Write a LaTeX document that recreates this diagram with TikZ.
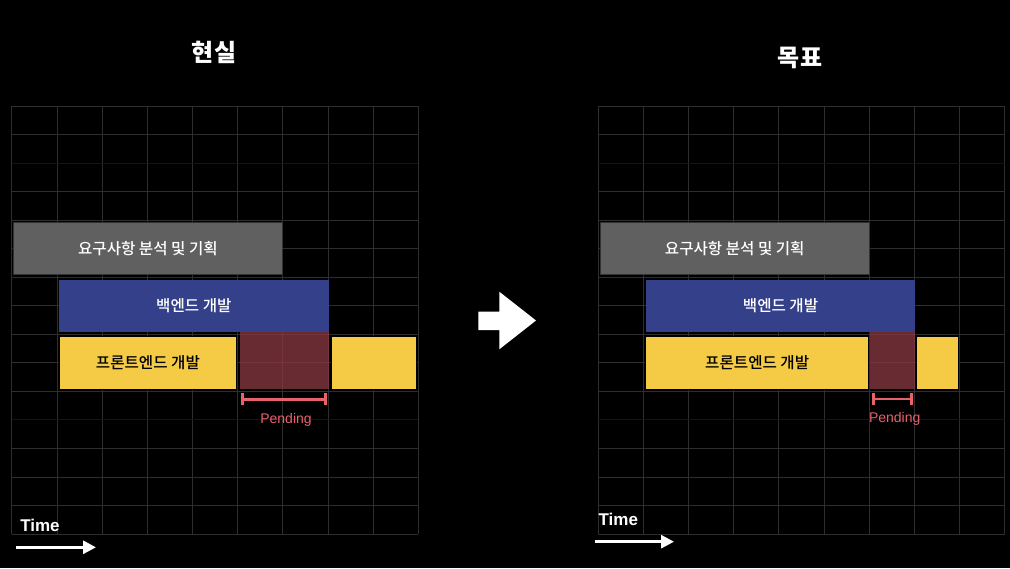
\documentclass[tikz,border=0pt]{standalone}
\usepackage{fontspec}
\setmainfont{Liberation Sans}
\newfontfamily\kor{Noto Sans CJK KR}
\newfontfamily\kormed{Noto Sans CJK KR Medium}
\usetikzlibrary{positioning,arrows.meta}

\definecolor{gridgray}{RGB}{46,46,46}
\definecolor{gridfaint}{RGB}{20,20,20}
\definecolor{reqgray}{RGB}{96,96,96}
\definecolor{backblue}{RGB}{52,65,138}
\definecolor{frontyellow}{RGB}{245,203,69}
\definecolor{pendfill}{RGB}{140,58,66}
\definecolor{pendred}{RGB}{232,98,108}

\begin{document}
\begin{tikzpicture}[
    x=1pt, y=-1pt,
    font=\kor,
    gridline/.style={draw=gridgray, line width=0.7pt},
    gridweak/.style={draw=gridfaint, line width=0.7pt},
    task/.style={
        anchor=north west,
        inner sep=0pt,
        align=center,
        font=\kormed\fontsize{15.6}{18}\selectfont
    },
    req/.style={task, fill=reqgray, draw=black!80, line width=0.8pt, text=white},
    back/.style={task, fill=backblue, text=white},
    front/.style={task, fill=frontyellow, draw=black, line width=0.8pt, text=black},
    pend/.style={task, fill=pendfill, fill opacity=0.75},
    title/.style={font=\kor\bfseries\fontsize{24}{28}\selectfont, text=white},
    timelabel/.style={font=\bfseries\fontsize{17}{20}\selectfont, text=white},
    timeline/.style={draw=white, line width=2.8pt, -{Triangle[length=13pt, width=13pt]}},
    pendline/.style={draw=pendred, line width=2.8pt,
        {Bar[width=12pt, line width=3pt]}-{Bar[width=12pt, line width=3pt]}},
    pendlabel/.style={font=\fontsize{14}{16}\selectfont, text=pendred}
]

% Background
\fill[black] (0,0) rectangle (1010,568);
\useasboundingbox (0,0) rectangle (1010,568);

% Grids
\foreach \gx in {11.7, 598} {
    \foreach \i in {0,...,9}
        \draw[gridline] (\gx+\i*45.18, 106) -- (\gx+\i*45.18, 534);
    \foreach \j in {0,1,3,4,5,6,7,8,9,10,12,13,14,15}
        \draw[gridline] (\gx, 106+\j*28.53) -- (\gx+406.6, 106+\j*28.53);
    \foreach \j in {2,11}
        \draw[gridweak] (\gx, 106+\j*28.53) -- (\gx+406.6, 106+\j*28.53);
}

% Titles
\node[title] (realT) at (214,52)   {현실};
\node[title] (goalT) at (800,57.5) {목표};

% Reality
\node[pend, minimum width=89, minimum height=57] (pendL) at (239.3,331.7) {};
\node[req, minimum width=269.6, minimum height=52.3] (reqL) at (12.7,221.7) {요구사항 분석 및 기획};
\node[back, minimum width=269.3, minimum height=52.4] (backL) at (59,279.3) {백엔드 개발};
\node[front, minimum width=177, minimum height=52.7] (frontL) at (59,336) {프론트엔드 개발};
\node[front, minimum width=85, minimum height=52.7] (restL) at (331,336) {};

\coordinate (pendLa) at (240.5,399.3);
\coordinate (pendLb) at (326.5,399.3);
\draw[pendline] (pendLa) -- (pendLb);
\node[pendlabel] (pendLtxt) at (286,419.5) {Pending};

\node[timelabel] (timeL) at (40,525) {Time};
\coordinate (timeLa) at (16,547.3);
\coordinate (timeLb) at (96,547.3);
\draw[timeline] (timeLa) -- (timeLb);

% Big arrow
\fill[white] (478.3,311.7) -- (499.3,311.7) -- (499.3,291.7) -- (536,320.5)
    -- (499.3,349.3) -- (499.3,330) -- (478.3,330) -- cycle;

% Goal
\node[pend, minimum width=45.7, minimum height=57.3] (pendR) at (869.3,331.7) {};
\node[req, minimum width=268.7, minimum height=52.3] (reqR) at (600,221.7) {요구사항 분석 및 기획};
\node[back, minimum width=269.3, minimum height=51.7] (backR) at (645.7,280) {백엔드 개발};
\node[front, minimum width=223, minimum height=53] (frontR) at (645.3,336) {프론트엔드 개발};
\node[front, minimum width=42.3, minimum height=52.7] (restR) at (916,336) {};

\coordinate (pendRa) at (871.5,399);
\coordinate (pendRb) at (912.5,399);
\draw[pendline] (pendRa) -- (pendRb);
\node[pendlabel] (pendRtxt) at (894.7,419) {Pending};

\node[timelabel] (timeR) at (618.3,519.3) {Time};
\coordinate (timeRa) at (594.7,541.7);
\coordinate (timeRb) at (674,541.7);
\draw[timeline] (timeRa) -- (timeRb);

\end{tikzpicture}
\end{document}
